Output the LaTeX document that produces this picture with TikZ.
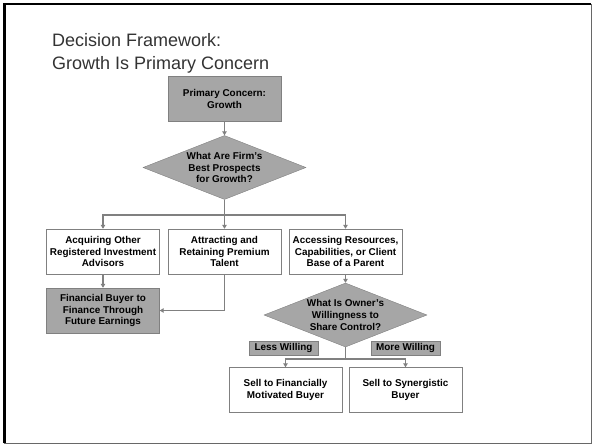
\documentclass[tikz,border=0pt]{standalone}
\usepackage{fontspec}
\setmainfont{Liberation Sans}
\usetikzlibrary{shapes.geometric,arrows.meta}
\definecolor{boxgray}{HTML}{A6A6A6}
\definecolor{linegray}{HTML}{808080}
\definecolor{titlegray}{HTML}{333333}
\begin{document}
\begin{tikzpicture}[x=1pt,y=-1pt,
    box/.style={draw=linegray, fill=white, minimum width=113pt, minimum height=45pt,
      inner sep=0pt, align=center, font=\bfseries\fontsize{9.9}{11.8}\selectfont},
    graybox/.style={box, fill=boxgray},
    decision/.style={diamond, draw=linegray, fill=boxgray, minimum width=163pt,
      minimum height=64pt, inner sep=0pt},
    qtext/.style={align=center, font=\bfseries\fontsize{9.9}{11.8}\selectfont},
    tag/.style={draw=linegray, fill=boxgray, minimum width=69pt, minimum height=14pt,
      inner sep=0pt, font=\bfseries\fontsize{9.9}{11}\selectfont},
    link/.style={draw=linegray, line width=1.4pt},
    conn/.style={link, -{Triangle[length=4pt,width=4.5pt]}}]
  \useasboundingbox (0,0) rectangle (592,445);
  % slide frame
  \draw[linegray!80!black, line width=1pt] (4,4) rectangle (591,443);
  \draw[line width=2.4pt] (4.5,443) -- (4.5,4.2) -- (591,4.2);
  \node[anchor=north west, align=left, text=titlegray, inner sep=0pt,
    font=\fontsize{18}{23.7}\selectfont] (title) at (52,33)
    {Decision Framework:\\Growth Is Primary Concern};
  % top of the tree
  \node[graybox] (prim) at (224.5,99) {Primary Concern:\\Growth};
  \node[decision] (q1) at (224.5,167.5) {};
  \node[qtext] (q1text) at (q1) {What Are Firm's\\Best Prospects\\for Growth?};
  \draw[conn] (prim.south) -- (q1.north);
  % three prospects
  \node[box] (acq) at (103,251.5) {Acquiring Other\\Registered Investment\\Advisors};
  \node[box] (attr) at (224.5,251.5) {Attracting and\\Retaining Premium\\Talent};
  \node[box] (acc) at (345.5,251.5) {Accessing Resources,\\Capabilities, or Client\\Base of a Parent};
  \draw[link] (q1.south) -- (224.5,215) coordinate (split1);
  \draw[conn] (split1) -| (acq.north);
  \draw[conn] (split1) -- (attr.north);
  \draw[conn] (split1) -| (acc.north);
  % financial buyer
  \node[graybox] (fin) at (103,310.5) {Financial Buyer to\\Finance Through\\Future Earnings};
  \draw[conn] (acq.south) -- (fin.north);
  \draw[conn] (attr.south) |- (fin.east);
  % owner's willingness
  \node[decision] (q2) at (345.5,315) {};
  \node[qtext] (q2text) at (q2) {What Is Owner's\\Willingness to\\Share Control?};
  \draw[conn] (acc.south) -- (q2.north);
  \node[tag] (less) at (283.5,348) {Less Willing};
  \node[tag] (more) at (405.5,348) {More Willing};
  \node[box] (sellfin) at (285.5,390) {Sell to Financially\\Motivated Buyer};
  \node[box] (sellsyn) at (405.5,390) {Sell to Synergistic\\Buyer};
  \draw[link] (q2.south) -- (345.5,359) coordinate (split2);
  \draw[conn] (split2) -| (sellfin.north);
  \draw[conn] (split2) -| (sellsyn.north);
\end{tikzpicture}
\end{document}
